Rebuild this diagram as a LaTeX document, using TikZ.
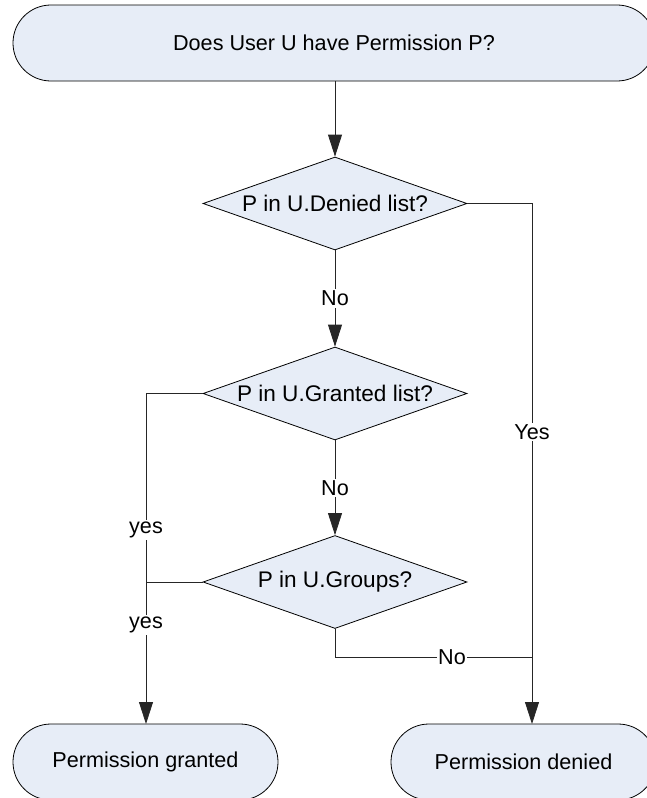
\documentclass[tikz,border=0pt]{standalone}
\usepackage{fontspec}
\setmainfont{Liberation Sans}
\usetikzlibrary{shapes.geometric,arrows.meta}
\definecolor{boxfill}{RGB}{231,237,247}
\begin{document}
\begin{tikzpicture}[x=1pt,y=-1pt,
  font=\fontsize{21.6}{26}\selectfont,
  terminal/.style={draw, fill=boxfill, rounded corners=37.9pt, inner sep=0pt,
                   minimum height=76pt, line width=0.8pt},
  decision/.style={draw, fill=boxfill, diamond, aspect=2.84, minimum width=264pt,
                   minimum height=93pt, inner sep=0pt, line width=0.8pt,
                   font=\fontsize{22.6}{27}\selectfont},
  flow/.style={line width=0.8pt, draw=black!85},
  arr/.style={flow, -{Triangle[length=22pt,width=14pt]}},
  lbl/.style={fill=white, inner sep=1.5pt}]
\useasboundingbox (0,0) rectangle (647,798);

% terminals and decisions
\node[terminal, minimum width=642pt] (start) at (334,43) {Does User U have Permission P?};
\node[decision] (d1) at (335,203.5) {P in U.Denied list?};
\node[decision] (d2) at (335,393.5) {P in U.Granted list?};
\node[decision] (d3) at (335,582) {P in U.Groups?};
\node[terminal, minimum width=265pt] (granted) at (145.5,762) {Permission granted};
\node[terminal, minimum width=265pt] (denied) at (523.5,762) {Permission denied};

% connector end points on the terminals
\coordinate (gtop) at (146,724);
\coordinate (dtop) at (532,724);
\coordinate (nojoin) at (532,657);

% main flow
\draw[arr] (start.south -| d1) -- (d1);
\draw[arr] (d1) -- node[lbl] {No} (d2);
\draw[arr] (d2) -- node[lbl] {No} (d3);

% denied branch
\draw[arr] (d1.east) -| (dtop);
\draw[flow] (d3.south) |- (nojoin);

% granted branch
\draw[arr] (d2.west) -| (gtop);
\draw[flow] (d3.west) -- (d3.west -| gtop);

% branch labels
\node[lbl] at (532,432) {Yes};
\node[lbl] at (146,530) {yes};
\node[lbl] at (146,625) {yes};
\node[lbl] at (452,657) {No};
\end{tikzpicture}
\end{document}
